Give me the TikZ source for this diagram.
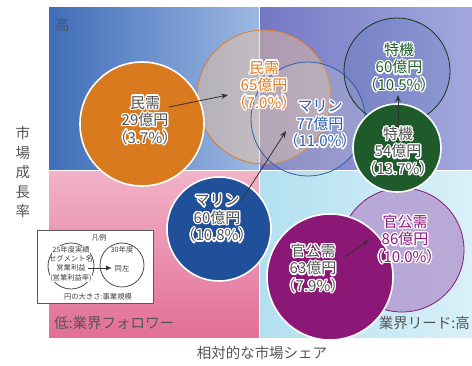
\documentclass[tikz,border=0pt]{standalone}
\usepackage{fontspec}
\setmainfont{Noto Sans CJK JP}
\usepackage{contour}
\contourlength{1.3pt}
\contournumber{16}
\usetikzlibrary{arrows.meta}
\definecolor{tlA}{HTML}{3F6DB8}
\definecolor{tlB}{HTML}{9DB8E2}
\definecolor{trA}{HTML}{7478C4}
\definecolor{trB}{HTML}{A4A8DE}
\definecolor{blA}{HTML}{E26F98}
\definecolor{blB}{HTML}{F2B3C8}
\definecolor{brA}{HTML}{B2E0F0}
\definecolor{brB}{HTML}{D9F0F8}
\definecolor{orangeF}{HTML}{DA7A1E}
\definecolor{orangeT}{HTML}{E27B1E}
\definecolor{blueF}{HTML}{1F5099}
\definecolor{blueT}{HTML}{2A5FAE}
\definecolor{greenF}{HTML}{1F5A2B}
\definecolor{greenT}{HTML}{215E2E}
\definecolor{purpF}{HTML}{8B1877}
\definecolor{purpT}{HTML}{8E1A7C}
\definecolor{lavF}{HTML}{B398D0}
\definecolor{grayT}{HTML}{555555}
\newcommand{\cl}[1]{\contour{white}{#1}}
\tikzset{
  filledc/.style={circle, draw=white, line width=1.6pt, inner sep=0pt, minimum size=#1},
  ghostc/.style={circle, line width=0.8pt, inner sep=0pt, minimum size=#1},
  clabel/.style={align=center, inner sep=0pt, font=\fontsize{15}{17.5}\selectfont},
  axlabel/.style={inner sep=0pt, text=grayT, font=\fontsize{14.5}{17}\selectfont},
  arr/.style={draw=black!80, line width=0.8pt, -{Stealth[length=7pt,width=5.5pt]}},
  legtext/.style={inner sep=0pt, align=center, text=black!75, font=\fontsize{7.3}{9.5}\selectfont},
  legc/.style={circle, draw=black!70, line width=0.8pt, inner sep=0pt, minimum size=#1}
}
\begin{document}
\begin{tikzpicture}[x=1pt,y=-1pt]
\useasboundingbox (0,0) rectangle (472,365);
% quadrants
\shade[left color=tlA, right color=tlB] (49,7) rectangle (259,170);
\shade[left color=trA, right color=trB] (259,7) rectangle (472,170);
\shade[top color=blB, bottom color=blA] (49,170) rectangle (259,337);
\shade[left color=brA, right color=brB] (259,170) rectangle (472,337);
\draw[white, line width=1pt] (259,7) -- (259,337);
\draw[white, line width=1pt] (49,170) -- (472,170);
% ghost (target) circles
\node[ghostc=134pt, draw=orangeT, fill=orangeT!45, fill opacity=0.45] (c65) at (264,97) {};
\node[ghostc=114pt, draw=blueT, fill=gray!40, fill opacity=0.25] (c77) at (308,119) {};
\node[ghostc=106pt, draw=greenF!60!black, fill=blueF, fill opacity=0.15] (c60t) at (397,71) {};
\node[ghostc=124pt, draw=purpF, fill=lavF, fill opacity=0.8] (c86) at (402,250) {};
% filled (current) circles
\node[filledc=124pt, fill=orangeF] (c29) at (142,124) {};
\node[filledc=88pt, fill=greenF] (c54) at (397,148) {};
\node[filledc=104pt, fill=blueF] (cm60) at (219,229) {};
\node[filledc=126pt, fill=purpF] (c63) at (330,277) {};
% labels
\node[clabel, text=grayT] (t29) at (145,121) {\cl{民需}\\\cl{29億円}\\\cl{（3.7\%）}};
\node[clabel, text=orangeT] (t65) at (264,86) {\cl{民需}\\\cl{65億円}\\\cl{（7.0\%）}};
\node[clabel, text=blueT] (t77) at (320,125) {\cl{マリン}\\\cl{77億円}\\\cl{（11.0\%）}};
\node[clabel, text=greenT] (t60t) at (399,68) {\cl{特機}\\\cl{60億円}\\\cl{（10.5\%）}};
\node[clabel, text=grayT] (t54) at (398,152) {\cl{特機}\\\cl{54億円}\\\cl{（13.7\%）}};
\node[clabel, text=grayT] (tm60) at (217,219) {\cl{マリン}\\\cl{60億円}\\\cl{（10.8\%）}};
\node[clabel, text=grayT] (t63) at (313,269) {\cl{官公需}\\\cl{63億円}\\\cl{（7.9\%）}};
\node[clabel, text=purpT] (t86) at (405,240) {\cl{官公需}\\\cl{86億円}\\\cl{（10.0\%）}};
% arrows
\coordinate (a1s) at (169,107); \coordinate (a1e) at (228,95);
\coordinate (a2s) at (241,201); \coordinate (a2e) at (286,131);
\coordinate (a3s) at (398,127); \coordinate (a3e) at (398,95);
\coordinate (a4s) at (344,257); \coordinate (a4e) at (369,240);
\draw[arr] (a1s) -- (a1e);
\draw[arr] (a2s) -- (a2e);
\draw[arr] (a3s) -- (a3e);
\draw[arr] (a4s) -- (a4e);
% quadrant labels
\node[axlabel, anchor=west] (hi) at (55,25) {高};
\node[axlabel, anchor=west] (lo) at (54,323) {低:業界フォロワー};
\node[axlabel, anchor=east] (lead) at (470,323) {業界リード:高};
\node[axlabel] (xax) at (262,353) {相対的な市場シェア};
\node[axlabel, align=center, font=\fontsize{14.5}{19.5}\selectfont] (yax) at (23,172) {市\\場\\成\\長\\率};
% legend
\node[draw=black!65, line width=0.9pt, fill=white, minimum width=116pt, minimum height=73pt, inner sep=0pt] (leg) at (95,266.5) {};
\node[legc=46pt] (lc1) at (71,266) {};
\node[legc=44pt] (lc2) at (122,265) {};
\node[legtext] (lgt) at (99,238) {凡例};
\node[legtext, fill=white, inner sep=0.5pt] (l1) at (71,250) {25年度実績};
\node[legtext] (l2) at (71,258.5) {セグメント名};
\node[legtext] (l3) at (71,268) {営業利益};
\node[legtext, fill=white, inner sep=0.5pt] (l4) at (71,278) {(営業利益率)};
\node[legtext] (r1) at (122,250) {30年度};
\node[legtext] (r2) at (122,269) {同左};
\node[legtext] (lb) at (98,297) {円の大きさ:事業規模};
\coordinate (la1) at (88,268); \coordinate (la2) at (112,268);
\draw[black!80, line width=0.8pt, -{Latex[length=6pt,width=5pt]}] (la1) -- (la2);
\end{tikzpicture}
\end{document}
